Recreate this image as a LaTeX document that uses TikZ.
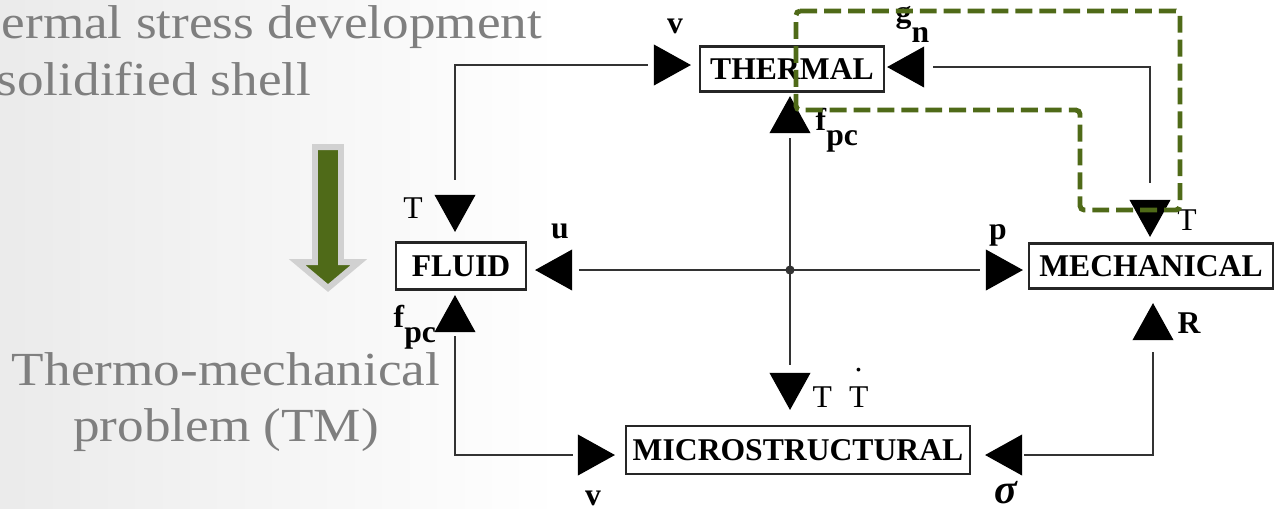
\documentclass[tikz,border=0pt]{standalone}
\usepackage{fontspec}
\setmainfont{Liberation Serif}
\newfontfamily\slidefont[FakeStretch=1.12]{Liberation Serif}
\usetikzlibrary{shapes.geometric}
\definecolor{slidegreen}{RGB}{79,106,24}
\definecolor{slidegray}{RGB}{127,127,127}
\newcommand{\lowsub}[2][0.15cm]{\raisebox{-#1}{#2}}
\newcommand{\dotT}{\rlap{\hspace{0.055cm}\raisebox{0.35cm}{.}}T}
\tikzset{
  block/.style={
    draw=black!85,
    line width=0.6pt,
    fill=white,
    inner xsep=0.1cm,
    inner ysep=0pt,
    minimum height=0.45cm,
    font=\fontsize{9pt}{10pt}\selectfont\bfseries
  },
  arrowhead/.style={
    isosceles triangle,
    isosceles triangle apex angle=58,
    shape border rotate=#1,
    fill=black,
    inner sep=0pt,
    outer sep=0pt,
    minimum width=0.37cm,
    minimum height=0.37cm
  },
  link/.style={
    draw=black!80,
    line width=0.5pt
  },
  sym/.style={
    font=\fontsize{9pt}{10pt}\selectfont,
    inner sep=0pt,
    anchor=base
  },
  symb/.style={
    sym,
    font=\fontsize{9pt}{10pt}\selectfont\bfseries
  },
  greendash/.style={
    draw=slidegreen,
    line width=1.4pt,
    dash pattern=on 4.8pt off 2pt,
    rounded corners=1.2pt
  },
  slidetext/.style={
    text=slidegray,
    inner sep=0pt,
    font=\slidefont\fontsize{13.5pt}{15.9pt}\selectfont
  }
}

\begin{document}
\begin{tikzpicture}[x=0.01cm, y=-0.01cm]
  \useasboundingbox (0,0) rectangle (1276,508);
  \shade[left color=black!8, right color=white] (0,0) rectangle (560,508);

  % slide text and arrow
  \node[slidetext, anchor=base west] (title1) at (1,38) {ermal stress development};
  \node[slidetext, anchor=base west] (title2) at (-4,95) {solidified shell};
  \node[slidetext] (tm1) at (226,385) [anchor=base] {Thermo-mechanical};
  \node[slidetext] (tm2) at (226,441) [anchor=base] {problem (TM)};
  \draw[draw=black!18, line width=1.7pt, fill=slidegreen]
    (315,147) -- (341,147) -- (341,262) -- (359,262) -- (328,288)
    -- (297,262) -- (315,262) -- cycle;

  % blocks
  \node[block, minimum width=1.3cm, minimum height=0.47cm] (fluid) at (461,266) {FLUID};
  \node[block] (thermal) at (792,69) {THERMAL};
  \node[block] (mech) at (1151,266) {MECHANICAL};
  \node[block, inner xsep=0.07cm, minimum height=0.48cm] (micro) at (798,450) {MICROSTRUCTURAL};

  % arrow heads
  \node[arrowhead=0] (hvTh) at (666,65) {};
  \node[arrowhead=270] (hTFl) at (455,207) {};
  \node[arrowhead=180] (huFl) at (560,270) {};
  \node[arrowhead=90] (hfFl) at (455,320) {};
  \node[arrowhead=0] (hvMi) at (590,455) {};
  \node[arrowhead=90] (hfTh) at (790,121) {};
  \node[arrowhead=270] (hTMi) at (790,385) {};
  \node[arrowhead=180] (hgTh) at (912,67) {};
  \node[arrowhead=270] (hTMe) at (1150,212) {};
  \node[arrowhead=0] (hpMe) at (998,270) {};
  \node[arrowhead=90] (hRMe) at (1153,328) {};
  \node[arrowhead=180] (hsMi) at (1010,455) {};

  % links
  \draw[link, shorten <=0.15cm, shorten >=0.06cm] (hTFl) |- (hvTh);
  \draw[link, shorten <=0.04cm, shorten >=0.05cm] (hfFl) |- (hvMi);
  \draw[link, shorten <=0.07cm, shorten >=0.06cm] (huFl) -- (hpMe);
  \draw[link, shorten <=0.05cm, shorten >=0.08cm] (hfTh) -- (hTMi);
  \draw[link, shorten <=0.09cm, shorten >=0.17cm] (hgTh) -| (hTMe);
  \draw[link, shorten <=0.12cm, shorten >=0.02cm] (hRMe) |- (hsMi);
  \fill[black!80] (hfTh |- huFl) circle (1.3pt);

  % labels
  \node[symb] (lvTop) at (675,33) {v};
  \node[sym] (lTFl) at (413,218) {T};
  \node[symb] (lu) at (560,238) {u};
  \node[symb, anchor=base west] (lfFl) at (393,327) {f\lowsub{pc}};
  \node[symb] (lvBot) at (593,505) {v};
  \node[symb, anchor=base west] (lfTh) at (815,130) {f\lowsub{pc}};
  \node[symb, anchor=base west] (lg) at (895,22) {g\lowsub[0.2cm]{n}};
  \node[sym] (lTMe) at (1187,230) {T};
  \node[symb] (lp) at (998,239) {p};
  \node[symb] (lR) at (1189,333) {R};
  \node[sym, anchor=base west] (lTMi) at (812,407) {T\hspace{0.17cm}\dotT};
  \node[symb, font=\fontsize{12pt}{12pt}\selectfont\bfseries\itshape] (lsig) at (1006,503) {σ};

  % coupled region
  \draw[greendash] (796,11) -- (1180,11) -- (1180,210) -- (1080,210)
    -- (1080,110) -- (796,110) -- cycle;
\end{tikzpicture}
\end{document}
